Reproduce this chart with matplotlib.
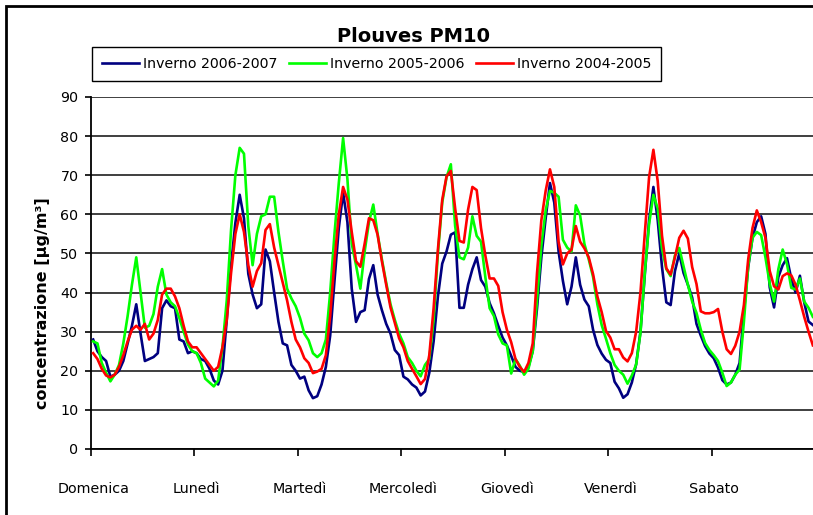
import numpy as np
import matplotlib
matplotlib.use("Agg")
import matplotlib.pyplot as plt
from matplotlib.patches import Rectangle

# -----------------------------
# Data: hourly PM10, one week (Sunday -> Saturday)
# -----------------------------
days = ["Domenica", "Lunedì", "Martedì", "Mercoledì", "Giovedì", "Venerdì", "Sabato"]

inverno_2006_2007 = [
    28, 25, 23.5, 22.5, 18.5, 19, 20, 22.5, 27, 31.5, 37, 29.5, 22.5, 23, 23.5, 24.5, 36, 38, 36.5, 36, 28, 27.5, 24.5, 25,
    24.5, 23, 22.5, 20.5, 17.5, 16.5, 20, 33, 47, 57.8, 65, 59, 44.8, 39.5, 36, 37, 51, 48, 40, 32.5, 27, 26.5, 21.5, 20,
    18, 18.5, 15, 13, 13.5, 16.5, 21, 29, 43, 56.5, 65.5, 58, 41, 32.5, 35, 35.5, 43.5, 47, 39.5, 35.5, 32, 29.5, 25.3, 24,
    18.5, 17.8, 16.5, 15.7, 13.7, 14.7, 19.5, 27.5, 39, 47.4, 50.5, 54.8, 55.4, 36.1, 36.1, 42, 46, 49, 43.2, 41.5, 37.3, 34.7, 31.5, 28.5,
    26.5, 23.8, 21, 20, 19.7, 21, 25, 36, 49, 59, 68, 63, 50.5, 43, 37, 41.5, 49, 42, 38.2, 36.5, 30.5, 26.6, 24.4, 22.8,
    22, 17.2, 15.5, 13.1, 14, 17, 21.7, 30, 44.5, 58.5, 67, 58.5, 46.5, 37.5, 36.8, 45.5, 50, 45, 42, 38.7, 32, 29, 26.3, 24.4,
    23.2, 20.8, 17.6, 16.5, 17, 19, 22, 35, 46.5, 54, 58, 59.5, 55, 41.3, 36.2, 44, 47, 48.8, 43.5, 40, 44.3, 37.5, 32.6, 31.7,
]

inverno_2005_2006 = [
    27.5, 27, 22, 19.5, 17.3, 19, 21.5, 27, 34, 42, 49, 40, 31, 31.5, 34.5, 41.5, 46, 39.5, 37.5, 36.5, 33.5, 30, 26.7, 25,
    24.5, 22, 18, 17, 16, 17.5, 26, 38, 56, 70, 77, 75.5, 57, 47, 55, 59.5, 60, 64.5, 64.5, 55.5, 48, 41, 38.5, 36.5,
    33.5, 29.5, 27.8, 24.5, 23.5, 24.5, 28, 40, 55, 68, 79.5, 69, 52.5, 47, 41, 50.5, 58, 62.5, 55, 48.5, 42.5, 37, 33, 29.5,
    27, 23.5, 22, 20, 18.6, 21.5, 23, 33, 50, 63, 69.5, 72.8, 57, 49, 48.5, 51.5, 59.5, 54.5, 53, 44, 36, 34, 29.3, 27,
    26.5, 19.3, 23, 21.3, 19, 20.5, 25, 38, 52, 61, 66, 65.5, 64.5, 53.5, 51.5, 50.5, 62.3, 59.7, 52.4, 48.5, 44, 37, 31.7, 28.2,
    24.5, 21.5, 20, 19, 16.7, 18.8, 21.6, 29.7, 45, 57.5, 65, 61.5, 51.2, 46, 44.2, 49.5, 51.4, 46.7, 42, 37.7, 34.8, 30.5, 27.1, 25.3,
    24, 22.5, 19.5, 16.1, 17, 19, 20.3, 32.5, 46.8, 54, 55.5, 54.7, 49, 42.2, 37.7, 46, 51, 47.3, 41.2, 40.8, 43.6, 37.7, 36.1, 33.8,
]

inverno_2004_2005 = [
    24.5, 23, 20.5, 18.8, 18.3, 19, 21, 24, 27.5, 30.5, 31.5, 30.5, 32, 28, 29.5, 33, 39.5, 41, 41, 39, 36, 31.5, 27.5, 26,
    26, 24.5, 23, 21.5, 20, 21, 26, 33, 45, 55, 60, 55.5, 47, 41.5, 45.5, 47.5, 56, 57.5, 51.5, 47, 42.5, 38, 32.5, 28,
    26, 23.2, 22, 19.4, 19.8, 20.5, 24, 34, 48, 60, 67, 63.8, 55.5, 48, 46.6, 52.5, 59, 58.5, 54.8, 48, 42, 36.2, 32.3, 28.3,
    26, 22.5, 20.5, 18.6, 16.6, 17.9, 24, 36, 51, 63.7, 69.7, 71.1, 61.5, 53.2, 52.8, 61.2, 67, 66.2, 56.5, 49.5, 43.6, 43.6, 41.7, 35,
    30.5, 27.3, 23, 21, 19.7, 22, 27, 45, 58.5, 66, 71.5, 67, 53, 47.2, 50, 51, 57, 53, 51.3, 49, 44.7, 39, 35, 30.2,
    28.5, 25.5, 25.5, 23.4, 22.4, 24.5, 30, 40, 55, 69.5, 76.5, 68.5, 54.5, 46.2, 44.6, 49, 54, 55.8, 53.8, 46.5, 42.2, 35.2, 34.7, 34.7,
    35, 35.8, 30, 25.5, 24.3, 26.4, 30, 36.8, 48.5, 56.5, 61, 58, 54, 45.5, 41.6, 40.8, 44.2, 44.9, 44.4, 42, 38, 33.8, 30, 26.5,
]

# -----------------------------
# Figure
# -----------------------------
W, H = 813, 515
fig = plt.figure(figsize=(W / 100, H / 100), dpi=100)
ax = fig.add_axes([91 / W, 66 / H, 724 / W, 352 / H])

hours = np.arange(len(inverno_2006_2007))
ax.plot(hours, inverno_2006_2007, color="#000080", lw=1.9, label="Inverno 2006-2007", zorder=3)
ax.plot(hours, inverno_2005_2006, color="#00FF00", lw=1.9, label="Inverno 2005-2006", zorder=4)
ax.plot(hours, inverno_2004_2005, color="#FF0000", lw=1.9, label="Inverno 2004-2005", zorder=5)

ax.set_xlim(-0.5, 167.5)
ax.set_ylim(0, 90)
ax.set_yticks(range(0, 91, 10))
ax.yaxis.grid(True, color="#303030", lw=1.3)
ax.set_axisbelow(True)

# day labels centred on first hour, tick marks on day boundaries
ax.set_xticks(np.arange(0, 168, 24))
ax.set_xticklabels(days)
ax.set_xticks(np.arange(-0.5, 168, 24), minor=True)
ax.tick_params(axis="x", which="major", length=0, pad=24, labelsize=10.3)
ax.tick_params(axis="x", which="minor", length=5, width=1.2, direction="out")
ax.tick_params(axis="y", length=4, width=1.2, pad=5, labelsize=10.3)

for side in ["top", "right"]:
    ax.spines[side].set_visible(False)
for side in ["left", "bottom"]:
    ax.spines[side].set_color("black")
    ax.spines[side].set_linewidth(1.3)

fig.text(413 / W, 1 - 36 / H, "Plouves PM10", ha="center", va="center",
         fontsize=14, fontweight="bold")
fig.text(42 / W, 1 - 303 / H, "concentrazione [µg/m³]", rotation=90,
         ha="center", va="center", fontsize=11.5, fontweight="bold")

leg = fig.legend(loc="upper left", bbox_to_anchor=(92 / W, 1 - 47 / H), ncol=3,
                 fontsize=10.2, frameon=True, fancybox=False, edgecolor="black",
                 framealpha=1, handlelength=2.6, handleheight=1.0,
                 handletextpad=0.3, columnspacing=0.8, borderpad=0.7,
                 borderaxespad=0)
leg.get_frame().set_linewidth(1.0)

# chart area border (cut on right and bottom)
fig.add_artist(Rectangle((5.5 / W, -0.1), 1.2, 1.1 - 6 / H, transform=fig.transFigure,
                         fill=False, edgecolor="black", lw=2))

fig.savefig("out.png", dpi=100)
